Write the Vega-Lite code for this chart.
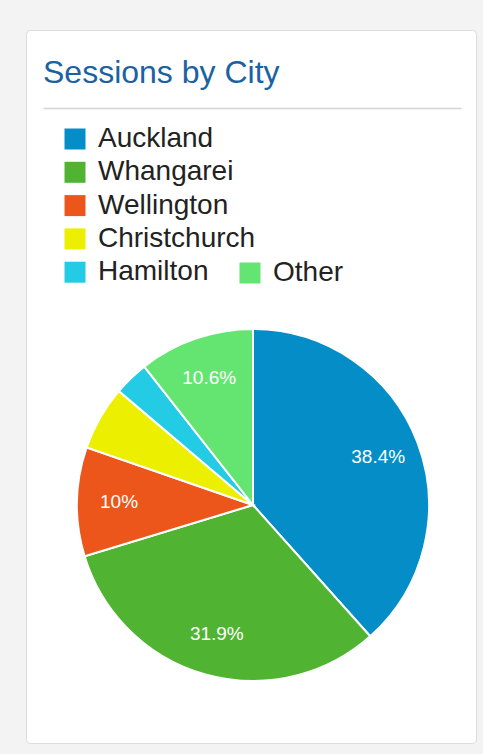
{
  "$schema": "https://vega.github.io/schema/vega-lite/v6.json",
  "width": 450,
  "height": 713,
  "autosize": {"type": "none"},
  "padding": {"left": 26, "top": 30, "right": 7, "bottom": 11},
  "background": "#f3f3f3",
  "view": {"fill": "#ffffff", "stroke": "#dcdcdc", "cornerRadius": 4},
  "title": {
    "text": "Sessions by City",
    "anchor": "start",
    "frame": "group",
    "orient": "top",
    "offset": -85,
    "baseline": "alphabetic",
    "dx": 17,
    "font": "Liberation Sans",
    "fontSize": 32,
    "fontWeight": "normal",
    "color": "#1b62a3"
  },
  "data": {
    "values": [
      {"city": "Auckland", "share": 38.4, "order": 1, "label": "38.4%"},
      {"city": "Whangarei", "share": 31.9, "order": 2, "label": "31.9%"},
      {"city": "Wellington", "share": 10.0, "order": 3, "label": "10%"},
      {"city": "Christchurch", "share": 5.9, "order": 4, "label": ""},
      {"city": "Hamilton", "share": 3.2, "order": 5, "label": ""},
      {"city": "Other", "share": 10.6, "order": 6, "label": "10.6%"}
    ]
  },
  "layer": [
    {
      "mark": {"type": "arc", "outerRadius": 176, "x": 227, "y": 475, "stroke": "#ffffff", "strokeWidth": 2},
      "encoding": {
        "theta": {"field": "share", "type": "quantitative", "stack": true},
        "order": {"field": "order", "type": "quantitative"},
        "color": {
          "field": "city",
          "type": "nominal",
          "scale": {
            "domain": ["Auckland", "Whangarei", "Wellington", "Christchurch", "Hamilton", "Other"],
            "range": ["#058DC7", "#50B432", "#ED561B", "#EDEF00", "#24CBE5", "#64E572"]
          },
          "legend": {
            "orient": "none",
            "legendX": 35,
            "legendY": 95,
            "title": null,
            "values": ["Auckland", "Whangarei", "Wellington", "Christchurch", "Hamilton"],
            "symbolType": "square",
            "symbolSize": 441,
            "symbolStrokeWidth": 0,
            "labelFontSize": 28,
            "labelFont": "Liberation Sans",
            "labelColor": "#222222",
            "labelOffset": 9,
            "labelLimit": 400,
            "rowPadding": 5.3,
            "padding": 0
          }
        }
      }
    },
    {
      "mark": {"type": "text", "radius": 134, "x": 227, "y": 475, "font": "Liberation Sans", "fontSize": 19, "color": "#ffffff"},
      "encoding": {
        "theta": {"field": "share", "type": "quantitative", "stack": true},
        "order": {"field": "order", "type": "quantitative"},
        "text": {"field": "label", "type": "nominal"}
      }
    },
    {
      "transform": [{"filter": "datum.city === 'Other'"}],
      "mark": {"type": "arc", "outerRadius": 0, "y": 475},
      "encoding": {
        "x": {
          "field": "share",
          "type": "quantitative",
          "scale": {"range": [17, 435]},
          "axis": {"orient": "top", "offset": -78, "domainColor": "#d4d4d4", "domainWidth": 1.5, "ticks": false, "labels": false, "grid": false, "title": null}
        },
        "color": {
          "field": "city",
          "type": "nominal",
          "scale": {"domain": ["Other"], "range": ["#64E572"]},
          "legend": {
            "orient": "none",
            "legendX": 210,
            "legendY": 229,
            "title": null,
            "symbolType": "square",
            "symbolSize": 441,
            "symbolStrokeWidth": 0,
            "symbolOpacity": 1,
            "labelFontSize": 28,
            "labelFont": "Liberation Sans",
            "labelColor": "#222222",
            "labelOffset": 9,
            "labelLimit": 400,
            "padding": 0
          }
        }
      }
    }
  ],
  "resolve": {"scale": {"color": "independent"}, "legend": {"color": "independent"}}
}
